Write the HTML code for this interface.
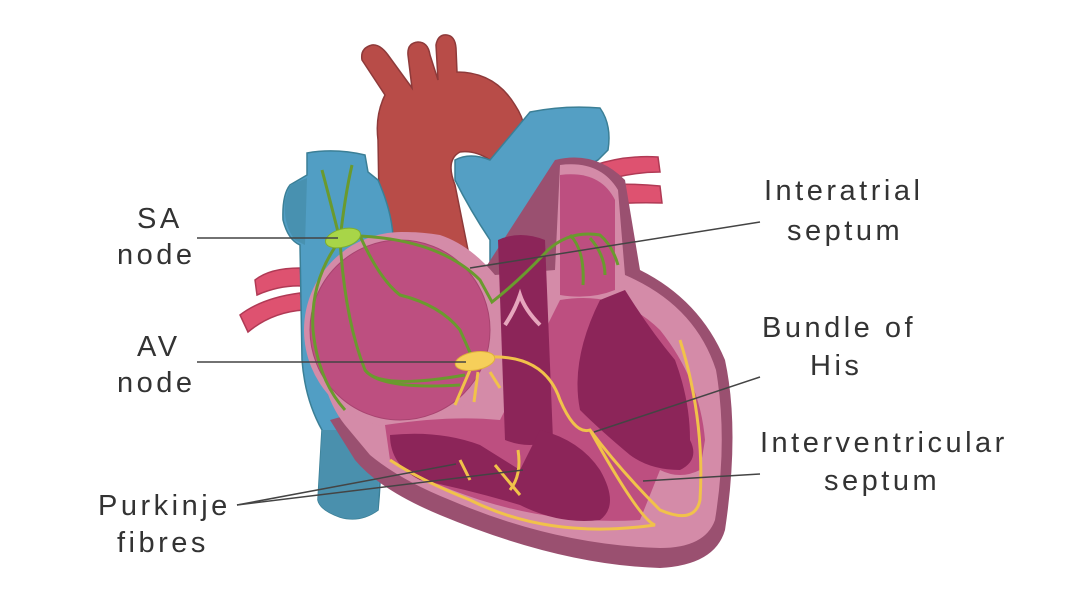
<!DOCTYPE html>
<html><head><meta charset="utf-8"><style>
html,body{margin:0;padding:0;background:#fff;}
svg{display:block}
text{font-family:"Liberation Sans",sans-serif;font-size:29px;fill:#333;letter-spacing:3.5px;}
</style></head><body>
<svg width="1092" height="608" viewBox="0 0 1092 608" xmlns="http://www.w3.org/2000/svg">
<rect width="1092" height="608" fill="#fff"/>
<g fill="#de5270" stroke="#b03a55" stroke-width="1.5">
<path d="M595,165 Q625,155 658,157 L660,172 Q630,172 600,182Z"/>
<path d="M600,185 Q630,183 660,186 L662,203 Q630,202 605,205Z"/>
<path d="M300,268 Q270,268 255,280 L257,295 Q280,285 302,286Z"/>
<path d="M300,293 Q262,298 240,315 L248,332 Q272,312 304,310Z"/>
</g>
<path d="M380,260 L378,140 Q375,115 385,95 L362,60 Q360,48 372,45 Q380,44 388,55 L412,88 L408,55 Q407,43 418,42 Q428,42 430,55 L438,80 L436,45 Q438,34 447,35 Q455,36 456,48 L457,72 Q495,72 515,105 Q525,120 525,135 L490,160 Q475,150 460,152 Q445,160 455,185 L470,260Z" fill="#b84c48" stroke="#8e3a3a" stroke-width="1.5"/>
<path d="M307,153 Q335,148 365,155 L368,172 L378,180 Q400,230 390,265 L380,430 Q382,470 378,510 Q360,523 340,517 Q320,510 318,500 L322,430 Q305,400 302,360 L300,245 Q288,240 283,220 Q282,195 290,185 L307,175Z" fill="#519ec4" stroke="#3b7f96" stroke-width="1.5"/>
<path d="M290,185 L307,178 L305,245 L295,240 Q283,225 285,200Z" fill="#4891b0"/>
<path d="M322,430 L380,430 L378,510 Q360,523 340,517 Q320,510 318,500Z" fill="#4a90ad"/>
<path d="M455,160 Q470,152 490,160 L530,112 Q565,105 600,108 Q612,125 608,150 L598,160 Q575,170 560,200 L555,420 L490,420 L490,240 Q470,210 455,180Z" fill="#549fc4" stroke="#3b7f96" stroke-width="1.5"/>
<path d="M555,160 Q595,150 625,180 L640,270 Q700,300 725,360 Q740,430 725,530 Q715,565 660,568 Q560,565 440,515 Q380,490 355,460 L330,420 L400,400Z" fill="#9a5070"/>
<path d="M560,165 Q600,160 618,190 L625,275 Q695,305 716,370 Q728,440 715,520 Q705,548 660,548 Q555,545 450,500 Q400,480 370,455 L345,425 Q325,400 320,360 Q318,290 345,250 Q380,225 440,235 Q470,245 495,275 L555,270Z" fill="#d48ba8"/>
<path d="M560,175 Q600,170 615,200 L615,290 Q590,300 560,295Z" fill="#bd4f80"/>
<circle cx="402" cy="330" r="98" fill="#d48ba8"/>
<circle cx="400" cy="330" r="90" fill="#bd4f80" stroke="#a84470" stroke-width="1"/>
<path d="M385,425 Q450,415 500,420 L560,300 Q620,290 660,330 Q700,380 705,440 L700,470 Q680,480 660,470 L640,520 Q560,525 480,500 Q420,480 390,460Z" fill="#bd4f80"/>
<g fill="#8c2559">
<path d="M498,240 Q520,230 545,240 L553,440 Q530,450 505,440Z"/>
<path d="M390,435 Q440,430 480,445 L520,470 L540,430 Q580,440 600,470 Q620,505 600,520 Q560,525 520,505 Q470,490 420,480 Q390,465 390,435Z"/>
<path d="M600,300 L625,290 Q650,330 675,360 Q690,400 690,440 Q700,460 680,470 Q650,470 630,455 Q600,430 580,410 Q570,360 600,300Z"/>
</g>
<path d="M505,325 Q515,310 520,295 Q525,310 540,325" fill="none" stroke="#e6a6bd" stroke-width="4"/>
<g fill="none" stroke="#6a9a2e" stroke-width="3">
<path d="M340,240 Q330,200 322,170"/><path d="M340,240 Q345,195 352,165"/>
<path d="M340,240 Q310,280 313,330 Q318,380 345,410"/>
<path d="M340,240 Q345,320 365,370 Q380,390 465,375"/>
<path d="M360,236 Q440,240 480,280 L492,302 Q520,280 548,250 Q570,230 600,235 Q612,245 618,265"/>
<path d="M360,236 Q380,280 400,295 Q440,305 460,330 L472,357"/>
<path d="M570,235 Q585,250 583,285"/><path d="M590,238 Q605,255 605,275"/>
<path d="M365,370 Q380,390 460,385"/>
</g>
<ellipse cx="343" cy="238" rx="18" ry="9" fill="#a8d548" stroke="#7fae2e" transform="rotate(-15 343 238)"/>
<g fill="none" stroke="#f1c24a" stroke-width="3">
<path d="M490,357 Q545,355 560,400 Q575,435 590,430 Q620,470 660,510 Q695,525 700,500 Q705,420 680,340"/>
<path d="M590,430 Q640,520 655,525 Q550,540 470,500 Q420,480 390,460"/>
<path d="M470,370 L455,405"/><path d="M478,372 L474,402"/><path d="M490,372 L500,388"/>
<path d="M460,460 L470,480"/><path d="M518,450 Q522,475 510,490"/><path d="M495,465 L520,495"/>
</g>
<ellipse cx="475" cy="361" rx="20" ry="9" fill="#f6cf5a" stroke="#e0b23c" transform="rotate(-10 475 361)"/>
<g stroke="#444" stroke-width="1.5" fill="none">
<line x1="197" y1="238" x2="338" y2="238"/>
<line x1="197" y1="362" x2="466" y2="362"/>
<line x1="470" y1="268" x2="760" y2="222"/>
<line x1="594" y1="432" x2="760" y2="377"/>
<line x1="643" y1="481" x2="760" y2="474"/>
<line x1="237" y1="505" x2="456" y2="464"/>
<line x1="237" y1="505" x2="523" y2="470"/>
</g>
<text x="137" y="228">SA</text><text x="117" y="264">node</text>
<text x="137" y="356">AV</text><text x="117" y="392">node</text>
<text x="98" y="515">Purkinje</text><text x="117" y="552">fibres</text>
<text x="764" y="200">Interatrial</text><text x="787" y="240">septum</text>
<text x="762" y="337">Bundle of</text><text x="810" y="375">His</text>
<text x="760" y="452">Interventricular</text><text x="824" y="490">septum</text>
</svg>
</body></html>
